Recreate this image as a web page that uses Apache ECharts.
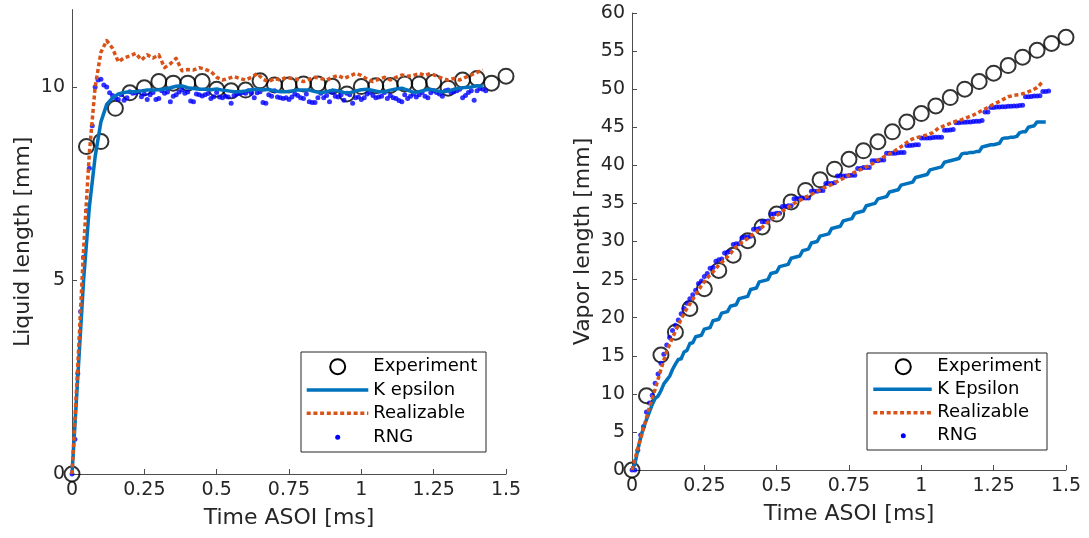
<!DOCTYPE html>
<html>
<head>
<meta charset="utf-8">
<script src="https://cdn.jsdelivr.net/npm/echarts@6/dist/echarts.min.js"></script>
<style>
html,body{margin:0;padding:0;background:#fff;}
#chart{width:1089px;height:538px;}
</style>
</head>
<body>
<div id="chart"></div>
<script>
// ---------------- DATA ----------------
const expTime = [0,0.05,0.1,0.15,0.2,0.25,0.3,0.35,0.4,0.45,0.5,0.55,0.6,0.65,0.7,0.75,0.8,0.85,0.9,0.95,1.0,1.05,1.1,1.15,1.2,1.25,1.3,1.35,1.4,1.45,1.5];

// Left plot: liquid length [mm]
const liqExperiment = [0,8.46,8.59,9.45,9.85,9.98,10.14,10.1,10.1,10.14,9.94,9.9,9.92,10.16,10.05,10.05,10.08,10.08,10.02,9.82,10.01,10.03,10.04,10.08,10.08,10.12,9.97,10.18,10.22,10.1,10.28];
// sampled every 0.02 ms
const liqKEpsilon = [
 0,2.5,5.0,6.9,8.2,9.1,9.55,9.72,9.82,9.86,
 9.88,9.88,9.9,9.92,9.92,9.93,9.95,9.98,10.02,10.03,
 9.98,9.96,9.94,9.94,9.93,9.95,9.92,9.9,9.88,9.88,
 9.9,9.93,9.94,9.92,9.94,9.9,9.88,9.88,9.9,9.92,
 9.92,9.92,9.88,9.85,9.88,9.92,9.9,9.86,9.85,9.9,
 9.93,9.94,9.91,9.88,9.88,9.92,9.95,9.97,9.92,9.86,
 9.88,9.92,9.94,9.9,9.88,9.9,9.94,9.97,9.99,10.0,
 10.03,10.02];
const liqRealizable = [
 0,2.8,5.8,8.3,10.0,10.9,11.2,11.0,10.65,10.75,
 10.8,10.87,10.7,10.83,10.75,10.83,10.5,10.6,10.74,10.42,
 10.45,10.44,10.5,10.46,10.4,10.25,10.18,10.22,10.27,10.22,
 10.18,10.25,10.35,10.2,10.14,10.22,10.18,10.25,10.22,10.2,
 10.14,10.2,10.25,10.22,10.18,10.25,10.3,10.22,10.28,10.35,
 10.3,10.2,10.14,10.2,10.25,10.18,10.25,10.31,10.28,10.3,
 10.35,10.3,10.35,10.28,10.22,10.18,10.22,10.18,10.25,10.31,
 10.38,10.44];
// sampled every 0.01 ms
const liqRNG = [
 0,0.9,2.6,4.2,5.6,6.8,7.9,9.0,10.0,10.18,
 10.2,10.05,10.0,9.85,9.78,9.72,9.68,9.8,9.66,9.72,
 9.88,9.84,9.85,9.88,9.75,9.82,9.68,9.8,9.86,9.68,
 9.7,9.9,9.84,9.87,9.62,9.76,9.8,9.87,9.92,9.84,
 9.87,9.64,9.62,9.82,9.8,9.77,9.8,9.83,9.7,9.75,
 9.86,9.74,9.72,9.76,9.74,9.58,9.78,9.82,9.84,9.86,
 9.84,9.9,9.84,9.72,9.85,9.88,9.6,9.58,9.8,9.76,
 9.9,9.74,9.72,9.7,9.72,9.68,9.74,9.82,9.78,9.72,
 9.7,9.82,9.62,9.6,9.6,9.72,9.84,9.72,9.78,9.62,
 9.86,9.76,9.74,9.8,9.66,9.84,9.8,9.58,9.72,9.74,
 9.68,9.72,9.82,9.86,9.78,9.72,9.74,9.76,9.86,9.7,
 9.78,9.72,9.7,9.65,9.62,9.8,9.7,9.76,9.82,9.74,
 9.8,9.86,9.76,9.72,9.85,9.9,9.86,9.82,9.76,9.9,
 9.92,9.86,9.88,9.9,9.94,9.72,9.78,9.86,9.9,9.66,
 9.9,9.96,9.94,9.9];

// Right plot: vapor length [mm]
const vapExperiment = [0,9.75,15.1,18.1,21.2,23.8,26.2,28.2,30.1,31.9,33.6,35.2,36.7,38.1,39.5,40.8,41.9,43.1,44.4,45.7,46.8,47.8,48.9,50.0,51.0,52.1,53.1,54.2,55.1,56.0,56.8];
// sampled every 0.01 ms
const vapKEpsilon = [
 0,0.8,2.6,4.3,5.6,6.6,7.6,8.6,9.4,9.7,
 10.4,11.3,11.8,12.3,13.2,13.9,14.5,14.6,15.5,15.7,
 16.6,16.7,17.5,17.6,17.7,18.5,18.6,18.7,19.6,19.7,
 19.8,20.6,20.7,20.8,21.5,21.6,21.7,22.5,22.6,22.7,
 22.8,23.7,23.8,23.9,24.7,24.8,24.9,25.0,25.8,25.9,
 26.0,26.7,26.8,26.9,27.0,27.8,27.9,28.0,28.1,28.8,
 28.9,29.0,29.8,29.9,30.0,30.7,30.8,30.9,31.0,31.7,
 31.8,31.9,32.0,32.7,32.8,32.9,33.0,33.7,33.8,33.9,
 34.0,34.7,34.8,34.9,35.0,35.6,35.7,35.8,35.9,36.5,
 36.6,36.7,36.8,37.4,37.5,37.6,37.7,37.8,38.4,38.5,
 38.6,38.7,38.8,39.4,39.5,39.6,39.7,39.8,40.4,40.5,
 40.6,40.7,40.8,40.9,41.5,41.6,41.6,41.7,41.7,41.8,
 41.8,42.4,42.5,42.6,42.7,42.7,42.8,42.9,43.5,43.6,
 43.6,43.7,43.7,43.8,44.3,44.4,44.4,45.0,45.1,45.2,
 45.7,45.7,45.7,45.7];
// sampled every 0.02 ms
const vapRealizable = [
 0,2.8,5.5,8.2,10.6,13.2,15.6,17.4,19.0,20.6,
 21.8,23.0,24.2,25.2,26.0,26.9,27.6,28.4,29.3,29.9,
 30.4,31.0,31.6,32.2,32.9,33.4,34.0,34.5,35.0,35.4,
 35.8,36.2,36.6,37.0,37.3,37.7,38.1,38.5,38.9,39.3,
 39.6,40.0,40.4,40.9,41.3,41.7,42.2,42.7,43.3,43.6,
 43.8,44.0,44.3,44.9,45.2,45.5,45.8,46.0,46.3,46.6,
 47.0,47.4,47.8,48.2,48.6,49.0,49.2,49.3,49.5,49.8,
 50.2,51.0];
// sampled every 0.01 ms
const vapRNG = [
 0,0,2.6,4.6,5.7,7.6,8.8,9.8,11.4,12.6,
 14.0,15.2,16.4,17.4,18.3,19.0,19.7,20.5,21.2,21.9,
 22.5,23.0,23.6,24.5,24.8,25.4,25.8,26.5,26.6,27.4,
 27.6,27.7,28.5,28.6,28.7,29.6,29.7,29.7,30.5,30.6,
 30.6,30.7,31.6,31.6,31.7,32.6,32.6,32.7,33.6,33.6,
 33.7,33.7,34.6,34.6,34.7,34.7,35.6,35.6,35.65,35.7,
 35.7,35.7,36.6,36.6,36.6,36.7,36.7,37.6,37.6,37.6,
 37.7,38.6,38.6,38.6,38.6,38.65,38.7,38.7,39.6,39.6,
 39.7,39.7,39.7,40.6,40.6,40.6,40.7,40.7,41.6,41.6,
 41.6,41.6,41.65,41.7,41.7,42.6,42.6,42.65,42.7,42.7,
 43.6,43.6,43.6,43.6,43.65,43.7,43.7,43.7,44.6,44.6,
 44.65,44.7,45.6,45.6,45.65,45.65,45.7,45.7,45.75,45.8,
 45.8,45.9,47.0,47.0,47.6,47.6,47.65,47.65,47.7,47.7,
 47.75,47.75,47.8,47.8,47.85,47.9,49.0,49.0,49.05,49.1,
 49.1,49.15,49.7,49.7,49.75];

const xTicks = [0,0.25,0.5,0.75,1,1.25,1.5];
const liqYTicks = [0,5,10];
const names = {exp:'Experiment', keL:'K epsilon', keR:'K Epsilon', real:'Realizable', rng:'RNG'};

// --------------- BUILD ---------------
function pairs(step, vals){
  return vals.map((v,i)=>[Math.round(i*step*1000)/1000, v]);
}
function pairsT(ts, vals){ return vals.map((v,i)=>[ts[i], v]); }

const FONT = 'DejaVu Sans';
const TXT = '#262626';
const AX = '#4d4d4d';
const C_KE = '#0072BD', C_RE = '#D95319', C_RNG = '#0000FF';

function xAxis(gi){
  return {
    type:'value', gridIndex:gi, min:0, max:1.5, interval:0.25,
    name:'Time ASOI [ms]', nameLocation:'middle', nameGap:33,
    nameTextStyle:{fontFamily:FONT,fontSize:22,color:TXT},
    axisLine:{show:true,onZero:false,lineStyle:{color:AX,width:1}},
    axisTick:{show:true,inside:true,length:5,lineStyle:{color:AX},customValues:xTicks},
    axisLabel:{fontFamily:FONT,fontSize:19,color:TXT,margin:7,customValues:xTicks},
    splitLine:{show:false}
  };
}
function yAxis(gi, opt){
  return Object.assign({
    type:'value', gridIndex:gi, nameLocation:'middle', nameGap:38, nameRotate:90,
    nameTextStyle:{fontFamily:FONT,fontSize:22,color:TXT},
    axisLine:{show:true,onZero:false,lineStyle:{color:AX,width:1}},
    axisTick:{show:true,inside:true,length:5,lineStyle:{color:AX}},
    axisLabel:{fontFamily:FONT,fontSize:19,color:TXT,margin:7},
    splitLine:{show:false}
  }, opt);
}

const lineSeries = (name, xi, data, color, dotted) => ({
  name, type:'line', xAxisIndex:xi, yAxisIndex:xi, data, showSymbol:false, symbol:'none',
  clip:false, animation:false,
  lineStyle:{color, width:3.5, type: dotted ? [4,2.7] : 'solid', cap:'butt', join:'round'}
});
const dotSeries = (name, xi, data) => ({
  name, type:'scatter', xAxisIndex:xi, yAxisIndex:xi, data, symbol:'circle', symbolSize:5,
  clip:false, animation:false, itemStyle:{color:C_RNG}
});
const expSeries = (xi, data) => ({
  name:names.exp, type:'scatter', xAxisIndex:xi, yAxisIndex:xi, data, symbol:'circle', symbolSize:15,
  clip:false, animation:false, itemStyle:{color:'rgba(0,0,0,0)', borderColor:'#000', borderWidth:2}
});

function legendGraphic(box, iconX, lineX0, lineX1, textX, rows, keName){
  const els = [];
  els.push({type:'rect', shape:{x:box[0],y:box[1],width:box[2],height:box[3]},
    style:{fill:'#fff', stroke:'#262626', lineWidth:1}, z:100});
  els.push({type:'circle', shape:{cx:iconX, cy:rows[0], r:7.5}, style:{fill:null, stroke:'#000', lineWidth:2}, z:101});
  els.push({type:'line', shape:{x1:lineX0,y1:rows[1],x2:lineX1,y2:rows[1]}, style:{stroke:C_KE, lineWidth:3.5}, z:101});
  els.push({type:'line', shape:{x1:lineX0,y1:rows[2],x2:lineX1,y2:rows[2]}, style:{stroke:C_RE, lineWidth:3.5, lineDash:[4,2.7]}, z:101});
  els.push({type:'circle', shape:{cx:iconX, cy:rows[3], r:2.5}, style:{fill:C_RNG}, z:101});
  const labels = [names.exp, keName, names.real, names.rng];
  labels.forEach((t,i)=>els.push({type:'text', x:textX, y:rows[i],
    style:{text:t, fontFamily:FONT, fontSize:18, fill:'#000', verticalAlign:'middle', align:'left'}, z:101}));
  return els;
}

const option = {
  backgroundColor:'#fff',
  animation:false,
  grid:[
    {left:72, top:9.6, width:434, height:464.4},
    {left:632, top:13, width:434, height:457}
  ],
  xAxis:[xAxis(0), xAxis(1)],
  yAxis:[
    yAxis(0,{name:'Liquid length [mm]', min:0, max:12, interval:5,
      axisTick:{show:true,inside:true,length:5,lineStyle:{color:AX},customValues:liqYTicks},
      axisLabel:{fontFamily:FONT,fontSize:19,color:TXT,margin:7,customValues:liqYTicks}}),
    yAxis(1,{name:'Vapor length [mm]', min:0, max:60, interval:5})
  ],
  series:[
    expSeries(0, pairsT(expTime, liqExperiment)),
    lineSeries(names.keL, 0, pairs(0.02, liqKEpsilon), C_KE, false),
    lineSeries(names.real, 0, pairs(0.02, liqRealizable), C_RE, true),
    dotSeries(names.rng, 0, pairs(0.01, liqRNG)),
    expSeries(1, pairsT(expTime, vapExperiment)),
    lineSeries(names.keR, 1, pairs(0.01, vapKEpsilon), C_KE, false),
    lineSeries(names.real, 1, pairs(0.02, vapRealizable), C_RE, true),
    dotSeries(names.rng, 1, pairs(0.01, vapRNG))
  ],
  graphic: [].concat(
    legendGraphic([301,352,185,100], 337.7, 306.7, 368.3, 373.3, [366.7,390,413.3,437.3], names.keL),
    legendGraphic([867,353,180,97], 903.3, 873.3, 931.7, 937.3, [366.7,389.3,412.7,435.7], names.keR)
  )
};

const chart = echarts.init(document.getElementById('chart'), null, {renderer:'canvas'});
chart.setOption(option);
</script>
</body>
</html>
